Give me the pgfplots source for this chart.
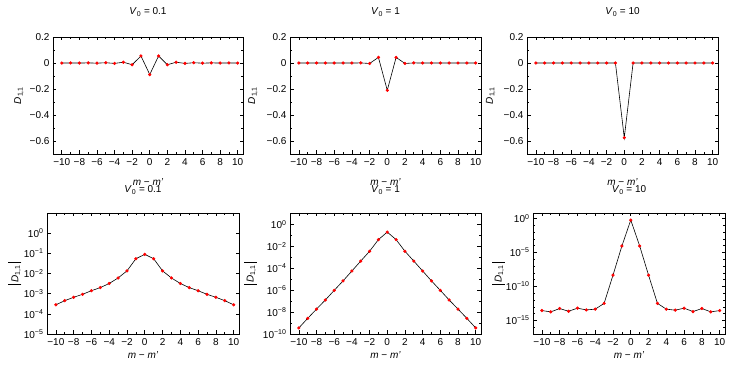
\documentclass[border=0pt]{standalone}
\usepackage{pgfplots}
\usepackage{pgfplotstable}
\pgfplotsset{compat=1.18}
\usepackage{fontspec}
\setmainfont{Liberation Sans}

\pgfplotstableread{
m D
-10 -0.00028
-9 0.00045
-8 -0.00066
-7 0.00093
-6 -0.0014
-5 0.0020
-4 -0.0032
-3 0.0060
-2 -0.0135
-1 0.054
0 -0.089
1 0.054
2 -0.0135
3 0.0060
4 -0.0032
5 0.0020
6 -0.0014
7 0.00093
8 -0.00066
9 0.00045
10 -0.00028
}\dataA
\pgfplotstableread{
m D
-10 3.6e-10
-9 2.7e-9
-8 1.9e-8
-7 1.3e-7
-6 9.8e-7
-5 7.2e-6
-4 5.8e-5
-3 4.7e-4
-2 0.0037
-1 0.043
0 0.21
1 0.043
2 0.0037
3 4.7e-4
4 5.8e-5
5 7.2e-6
6 9.8e-7
7 1.3e-7
8 1.9e-8
9 2.7e-9
10 3.6e-10
}\dataB
\pgfplotstableread{
m D
-10 2.8e-14
-9 1.8e-14
-8 5.6e-14
-7 2.2e-14
-6 6.3e-14
-5 3.5e-14
-4 4.5e-14
-3 3.2e-13
-2 4.5e-9
-1 8.9e-5
0 0.575
1 8.9e-5
2 4.5e-9
3 3.2e-13
4 4.5e-14
5 3.2e-14
6 6.3e-14
7 2.0e-14
8 5.6e-14
9 1.8e-14
10 2.8e-14
}\dataC

\pgfplotsset{
  base/.style={
    scale only axis,
    font=\fontsize{10}{12}\selectfont,
    axis line style={line width=0.9pt, black},
    tick style={line width=0.6pt, black},
    tick align=inside,
    major tick length=3.5pt,
    minor tick length=2pt,
    xmin=-11, xmax=10.6,
    xtick={-10,-8,...,10},
    xticklabels={−10,−8,−6,−4,−2,0,2,4,6,8,10},
    minor x tick num=1,
    xticklabel style={yshift=-1pt},
    every axis title/.style={at={(axis description cs:0.5,1)}, anchor=center},
  },
  toprow/.style={base,
    width=#1, height=117pt,
    ymin=-0.7, ymax=0.2,
    ytick={-0.6,-0.4,-0.2,0,0.2},
    yticklabels={−0.6,−0.4,−0.2,0,0.2},
    minor y tick num=1,
    title style={yshift=25pt},
    xlabel={\textit{m} − \textit{m'}},
    xlabel style={at={(axis description cs:0.5,0)}, anchor=center, yshift=-28pt},
  },
  botrow/.style={base,
    width=#1, height=121pt,
    title style={yshift=23pt},
    xlabel={\textit{m} − \textit{m'}},
    xlabel style={at={(axis description cs:0.5,0)}, anchor=center, yshift=-21pt},
  },
  dplot/.style={black, line width=0.6pt, mark=*, mark size=1.3pt,
    mark options={draw=red, fill=red}},
}
\newcommand{\Dlab}{\textit{D}\textsubscript{1,1}}
\newcommand{\absDlab}{\rule[-3pt]{1.4pt}{13pt}\,\textit{D}\textsubscript{1,1}\,\rule[-3pt]{1.4pt}{13pt}}

\begin{document}
\begin{tikzpicture}
\useasboundingbox (0pt,0pt) rectangle (737pt,374pt);

% ---------- top row ----------
\begin{axis}[toprow=190pt, at={(53pt,337pt)}, anchor=north west,
  title={\textit{V}\textsubscript{0} = 0.1},
  ylabel={\Dlab}, ylabel style={at={(axis description cs:-0.179,0.5)}, anchor=center}]
\addplot[dplot] table[x=m, y=D] {\dataA};
\end{axis}

\begin{axis}[toprow=191pt, at={(290pt,337pt)}, anchor=north west,
  title={\textit{V}\textsubscript{0} = 1},
  ylabel={\Dlab}, ylabel style={at={(axis description cs:-0.194,0.5)}, anchor=center}]
\addplot[dplot] coordinates {(-10,0)(-9,0)(-8,0)(-7,0)(-6,0)(-5,0)(-4,-0.0001)(-3,0.0005)(-2,-0.0037)(-1,0.043)(0,-0.21)(1,0.043)(2,-0.0037)(3,0.0005)(4,-0.0001)(5,0)(6,0)(7,0)(8,0)(9,0)(10,0)};
\end{axis}

\begin{axis}[toprow=191pt, at={(527pt,337pt)}, anchor=north west,
  title={\textit{V}\textsubscript{0} = 10},
  ylabel={\Dlab}, ylabel style={at={(axis description cs:-0.19,0.5)}, anchor=center}]
\addplot[dplot] coordinates {(-10,0)(-9,0)(-8,0)(-7,0)(-6,0)(-5,0)(-4,0)(-3,0)(-2,0)(-1,0.0001)(0,-0.575)(1,0.0001)(2,0)(3,0)(4,0)(5,0)(6,0)(7,0)(8,0)(9,0)(10,0)};
\end{axis}

% ---------- bottom row ----------
\begin{axis}[ymode=log, botrow=192pt, at={(47pt,161pt)}, anchor=north west,
  ymin=1e-5, ymax=1e1,
  ytick={1e0,1e-1,1e-2,1e-3,1e-4,1e-5},
  yticklabels={10\textsuperscript{0},10\textsuperscript{−1},10\textsuperscript{−2},10\textsuperscript{−3},10\textsuperscript{−4},10\textsuperscript{−5}},
  title={\textit{V}\textsubscript{0} = 0.1},
  ylabel={\absDlab}, ylabel style={at={(axis description cs:-0.167,0.5)}, anchor=center}]
\addplot[dplot] table[x=m, y expr={abs(\thisrow{D})}] {\dataA};
\end{axis}

\begin{axis}[ymode=log, botrow=191pt, at={(290pt,161pt)}, anchor=north west,
  ymin=1e-10, ymax=11.7,
  ytick={1e0,1e-2,1e-4,1e-6,1e-8,1e-10},
  minor ytick={1e-1,1e-3,1e-5,1e-7,1e-9},
  yticklabels={10\textsuperscript{0},10\textsuperscript{−2},10\textsuperscript{−4},10\textsuperscript{−6},10\textsuperscript{−8},10\textsuperscript{−10}},
  title={\textit{V}\textsubscript{0} = 1},
  ylabel={\absDlab}, ylabel style={at={(axis description cs:-0.209,0.5)}, anchor=center}]
\addplot[dplot] table[x=m, y=D] {\dataB};
\end{axis}

\begin{axis}[ymode=log, botrow=192pt, at={(533pt,161pt)}, anchor=north west,
  ymin=1e-17, ymax=6.3,
  ytick={1e0,1e-5,1e-10,1e-15},
  minor ytick={1e-1,1e-2,1e-3,1e-4,1e-6,1e-7,1e-8,1e-9,1e-11,1e-12,1e-13,1e-14,1e-16},
  yticklabels={10\textsuperscript{0},10\textsuperscript{−5},10\textsuperscript{−10},10\textsuperscript{−15}},
  title={\textit{V}\textsubscript{0} = 10},
  ylabel={\absDlab}, ylabel style={at={(axis description cs:-0.182,0.5)}, anchor=center}]
\addplot[dplot] table[x=m, y=D] {\dataC};
\end{axis}
\end{tikzpicture}
\end{document}
